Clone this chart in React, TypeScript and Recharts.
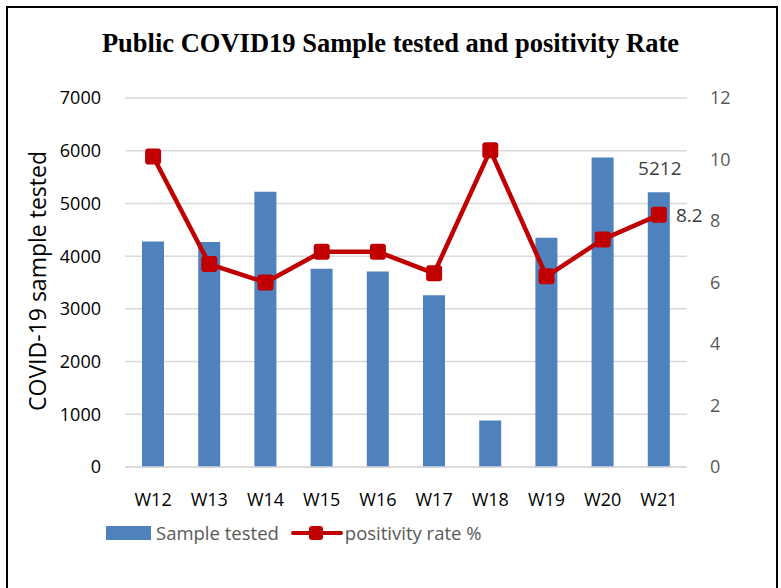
import { Bar, CartesianGrid, ComposedChart, LabelList, Legend, Line, XAxis, YAxis } from 'recharts';

const weeks = ['W12', 'W13', 'W14', 'W15', 'W16', 'W17', 'W18', 'W19', 'W20', 'W21'];
const sampleTested = [4280, 4270, 5220, 3760, 3710, 3260, 880, 4350, 5870, 5212];
const positivityRate = [10.1, 6.6, 6.0, 7.0, 7.0, 6.3, 10.3, 6.2, 7.4, 8.2];
const leftTicks = [0, 1000, 2000, 3000, 4000, 5000, 6000, 7000];
const rightTicks = [0, 2, 4, 6, 8, 10, 12];

const data = weeks.map((week, i) => ({
  week,
  samples: sampleTested[i],
  rate: positivityRate[i],
}));

const FONT = '"Open Sans", sans-serif';
const BLUE = '#4F81BD';
const RED = '#C00000';
const lastIndex = weeks.length - 1;

const SquareDot = (props: any) => {
  const { cx, cy, index } = props;
  if (cx == null || cy == null) return null;
  return <rect key={`dot-${index}`} x={cx - 8} y={cy - 8} width={16} height={16} rx={3} fill={RED} />;
};

const renderLegend = () => (
  <div style={{ display: 'flex', alignItems: 'center', height: 25, fontFamily: FONT, fontSize: 18.5, color: '#595959' }}>
    <div style={{ width: 45, height: 14, background: BLUE, marginRight: 5 }} />
    <span>Sample tested</span>
    <svg width={52} height={20} style={{ marginLeft: 12 }}>
      <line x1={2} y1={10} x2={50} y2={10} stroke={RED} strokeWidth={4} strokeLinecap="round" />
      <rect x={18} y={3} width={14} height={14} rx={3} fill={RED} />
    </svg>
    <span style={{ marginLeft: 2 }}>positivity rate %</span>
  </div>
);

export default function App() {
  return (
    <div style={{ position: 'absolute', left: 0, top: 0, width: 781, height: 588, overflow: 'hidden', background: '#fff' }}>
      <div
        style={{
          position: 'absolute',
          left: 6,
          top: 6,
          width: 768,
          height: 620,
          border: '2px solid #000',
        }}
      />
      <div
        style={{
          position: 'absolute',
          left: 0,
          width: 781,
          top: 28,
          textAlign: 'center',
          fontFamily: '"Liberation Serif", serif',
          fontWeight: 'bold',
          fontSize: 26.5,
          color: '#000',
        }}
      >
        Public COVID19 Sample tested and positivity Rate
      </div>
      <div style={{ position: 'absolute', left: 0, top: 0 }}>
        <ComposedChart
          width={781}
          height={588}
          data={data}
          margin={{ top: 98, right: 0, bottom: 56, left: 0 }}
          style={{ fontFamily: FONT }}
        >
          <CartesianGrid vertical={false} stroke="#D9D9D9" strokeWidth={1.5} yAxisId="left" />
          <XAxis
            dataKey="week"
            height={40}
            tickLine={false}
            axisLine={{ stroke: '#D9D9D9', strokeWidth: 1.5 }}
            tickSize={0}
            tickMargin={26}
            tick={{ fill: '#000', fontSize: 18, fontFamily: FONT }}
            interval={0}
          />
          <YAxis
            yAxisId="left"
            width={125}
            domain={[0, 7000]}
            ticks={leftTicks}
            tickLine={false}
            axisLine={false}
            tickSize={0}
            tickMargin={24}
            tick={{ fill: '#000', fontSize: 18, fontFamily: FONT }}
            label={{
              content: () => (
                <text
                  x={37}
                  y={281}
                  transform="rotate(-90 37 281)"
                  textAnchor="middle"
                  dominantBaseline="central"
                  fontFamily={FONT}
                  fontSize={23}
                  fill="#000"
                >
                  COVID-19 sample tested
                </text>
              ),
            }}
          />
          <YAxis
            yAxisId="right"
            orientation="right"
            width={94}
            domain={[0, 12]}
            ticks={rightTicks}
            tickLine={false}
            axisLine={false}
            tickSize={0}
            tickMargin={23}
            tick={{ fill: '#595959', fontSize: 18, fontFamily: FONT }}
          />
          <Legend
            verticalAlign="bottom"
            content={renderLegend}
            wrapperStyle={{ left: 106, top: 520, width: 500, height: 25, bottom: 'auto' }}
          />
          <Bar yAxisId="left" dataKey="samples" name="Sample tested" fill={BLUE} barSize={22} isAnimationActive={false}>
            <LabelList
              dataKey="samples"
              content={(p: any) =>
                p.index === lastIndex ? (
                  <text x={p.x + p.width / 2 + 1} y={p.y - 17} textAnchor="middle" fontSize={19} fontFamily={FONT} fill="#404040">
                    {p.value}
                  </text>
                ) : null
              }
            />
          </Bar>
          <Line
            yAxisId="right"
            dataKey="rate"
            name="positivity rate %"
            type="linear"
            stroke={RED}
            strokeWidth={4.5}
            dot={SquareDot}
            activeDot={false}
            isAnimationActive={false}
          >
            <LabelList
              dataKey="rate"
              content={(p: any) =>
                p.index === lastIndex ? (
                  <text x={p.x + 17} y={p.y} dominantBaseline="central" fontSize={19} fontFamily={FONT} fill="#404040">
                    {p.value}
                  </text>
                ) : null
              }
            />
          </Line>
        </ComposedChart>
      </div>
    </div>
  );
}
